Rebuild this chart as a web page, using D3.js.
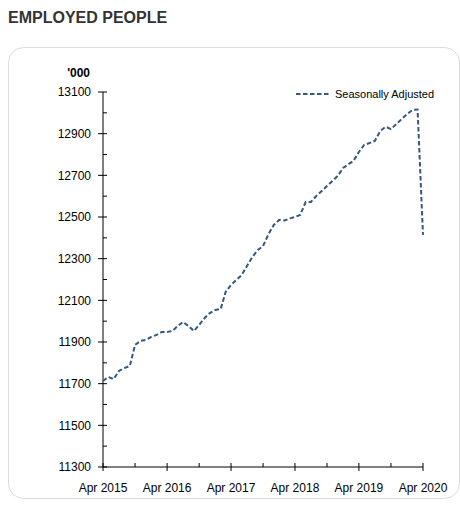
<!DOCTYPE html>
<html>
<head>
<meta charset="utf-8">
<script src="https://cdn.jsdelivr.net/npm/d3@7"></script>
<style>
  html, body { margin: 0; padding: 0; background: #fff; }
  svg { display: block; }
</style>
</head>
<body>
<script>
const title = "EMPLOYED PEOPLE";
const unitLabel = "'000";
const seriesName = "Seasonally Adjusted";
const startMonth = "2015-04";
// monthly values, Apr 2015 .. Apr 2020 ('000 persons)
const employed = [
  11713, 11732, 11722, 11761, 11775, 11785, 11886, 11905, 11910, 11924, 11934, 11948,
  11948, 11953, 11977, 11996, 11977, 11953, 11982, 12015, 12039, 12054, 12058, 12140,
  12174, 12198, 12222, 12265, 12308, 12342, 12361, 12418, 12462, 12486, 12483, 12493,
  12500, 12510, 12572, 12572, 12601, 12625, 12649, 12673, 12697, 12735, 12754, 12769,
  12812, 12846, 12855, 12865, 12913, 12933, 12922, 12946, 12970, 12994, 13014, 13016,
  12414
];
const yTicks = [11300, 11500, 11700, 11900, 12100, 12300, 12500, 12700, 12900, 13100];
const yMinorTicks = [11400, 11600, 11800, 12000, 12200, 12400, 12600, 12800, 13000];
const xTickLabels = ["Apr 2015", "Apr 2016", "Apr 2017", "Apr 2018", "Apr 2019", "Apr 2020"];

const W = 460, H = 505;
const font = "'Liberation Sans', Arial, sans-serif";
const lineColor = "#34587e";

const parse = d3.timeParse("%Y-%m");
const t0 = parse(startMonth);
const data = employed.map((v, i) => ({ date: d3.timeMonth.offset(t0, i), value: v }));

const svg = d3.select("body").append("svg").attr("width", W).attr("height", H);

svg.append("text").attr("x", 8).attr("y", 23)
  .attr("font-family", font).attr("font-weight", "bold").attr("font-size", 16)
  .attr("fill", "#333").text(title);

svg.append("rect").attr("x", 8.5).attr("y", 47.5).attr("width", 451).attr("height", 451)
  .attr("rx", 15).attr("fill", "#fff").attr("stroke", "#dcdcdc");

const x = d3.scaleTime().domain([t0, d3.timeMonth.offset(t0, 60)]).range([103, 423]);
const y = d3.scaleLinear().domain([11300, 13100]).range([467, 92]);

const majorDates = xTickLabels.map(s => d3.timeParse("%b %Y")(s));
const minorDates = majorDates.slice(0, -1).map(d => d3.timeMonth.offset(d, 6));

// y axis
const gy = svg.append("g").attr("transform", "translate(103,0)");
gy.append("line").attr("y1", y(11300)).attr("y2", y(13100)).attr("stroke", "#000");
gy.selectAll(".maj").data(yTicks).join("line")
  .attr("x1", -5).attr("x2", 4).attr("y1", d => y(d)).attr("y2", d => y(d)).attr("stroke", "#000");
gy.selectAll(".min").data(yMinorTicks).join("line").attr("class", "min")
  .attr("x1", 0).attr("x2", 4).attr("y1", d => y(d)).attr("y2", d => y(d)).attr("stroke", "#000");
gy.selectAll("text").data(yTicks).join("text")
  .attr("x", -12).attr("y", d => y(d)).attr("dy", "0.35em").attr("text-anchor", "end")
  .attr("font-family", font).attr("font-size", 12).attr("fill", "#000").text(d => d);
svg.append("text").attr("x", 90).attr("y", 77).attr("text-anchor", "end")
  .attr("font-family", font).attr("font-weight", "bold").attr("font-size", 12).text(unitLabel);

// x axis
const gx = svg.append("g").attr("transform", "translate(0,467)");
gx.append("line").attr("x1", x(t0)).attr("x2", x(majorDates[5])).attr("stroke", "#000");
gx.selectAll(".maj").data(majorDates).join("line")
  .attr("x1", d => x(d)).attr("x2", d => x(d)).attr("y1", -4).attr("y2", 4).attr("stroke", "#000");
gx.selectAll(".min").data(minorDates).join("line").attr("class", "min")
  .attr("x1", d => x(d)).attr("x2", d => x(d)).attr("y1", -4).attr("y2", 0).attr("stroke", "#000");
gx.selectAll("text").data(majorDates).join("text")
  .attr("x", d => x(d)).attr("y", 25).attr("text-anchor", "middle")
  .attr("font-family", font).attr("font-size", 12).attr("fill", "#000")
  .text((d, i) => xTickLabels[i]);

// line
svg.append("path").datum(data)
  .attr("d", d3.line().x(d => x(d.date)).y(d => y(d.value)))
  .attr("fill", "none").attr("stroke", lineColor).attr("stroke-width", 2)
  .attr("stroke-dasharray", "4.5,2.5");

// legend
svg.append("line").attr("x1", 296).attr("x2", 330).attr("y1", 94).attr("y2", 94)
  .attr("stroke", lineColor).attr("stroke-width", 2).attr("stroke-dasharray", "4.5,2.5");
svg.append("text").attr("x", 335).attr("y", 94).attr("dy", "0.35em")
  .attr("font-family", font).attr("font-size", 11).attr("fill", "#000").text(seriesName);
</script>
</body>
</html>
